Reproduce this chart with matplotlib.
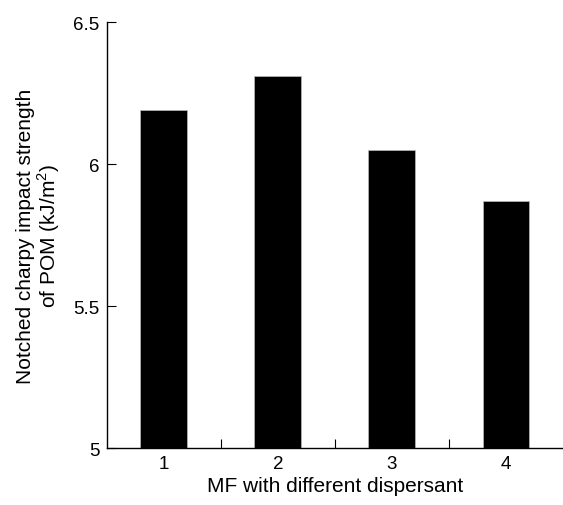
import matplotlib

matplotlib.use("Agg")
import matplotlib.pyplot as plt
from matplotlib.ticker import FixedLocator

# notched charpy impact strength of POM, one bar per MF dispersant
samples = [1, 2, 3, 4]
strength = [6.19, 6.31, 6.05, 5.87]
y_ticks = [5, 5.5, 6, 6.5]
y_tick_labels = ["5", "5.5", "6", "6.5"]

plt.rcParams["font.family"] = ["Liberation Sans", "DejaVu Sans"]
plt.rcParams["font.size"] = 13.5
plt.rcParams["mathtext.fontset"] = "custom"
plt.rcParams["mathtext.rm"] = "Liberation Sans"

fig = plt.figure(figsize=(5.63, 5.06), dpi=100)
ax = fig.add_axes([0.1895, 0.112, 0.8105, 0.842])

ax.bar(samples, strength, width=0.41, color="black", edgecolor="#bbbbbb", linewidth=0.5)

ax.set_xlim(0.5, 4.5)
ax.set_ylim(5, 6.5)
ax.set_yticks(y_ticks)
ax.set_yticklabels(y_tick_labels)
ax.set_xticks(samples)
ax.xaxis.set_minor_locator(FixedLocator([1.5, 2.5, 3.5]))

# y ticks point in, x only gets small separators between the bars
ax.tick_params(axis="y", direction="in", length=6.5, width=0.8, pad=5)
ax.tick_params(axis="x", which="major", length=0, pad=5)
ax.tick_params(axis="x", which="minor", direction="in", length=6.5, width=0.8)

for side in ("top", "right"):
    ax.spines[side].set_visible(False)
for side in ("left", "bottom"):
    ax.spines[side].set_linewidth(1.0)

ax.set_xlabel("MF with different dispersant", fontsize=15, labelpad=3)
ax.set_ylabel("Notched charpy impact strength\nof POM (kJ/m$^2$)", fontsize=15,
              labelpad=8, linespacing=1.05)

fig.savefig("out.png", dpi=100)
